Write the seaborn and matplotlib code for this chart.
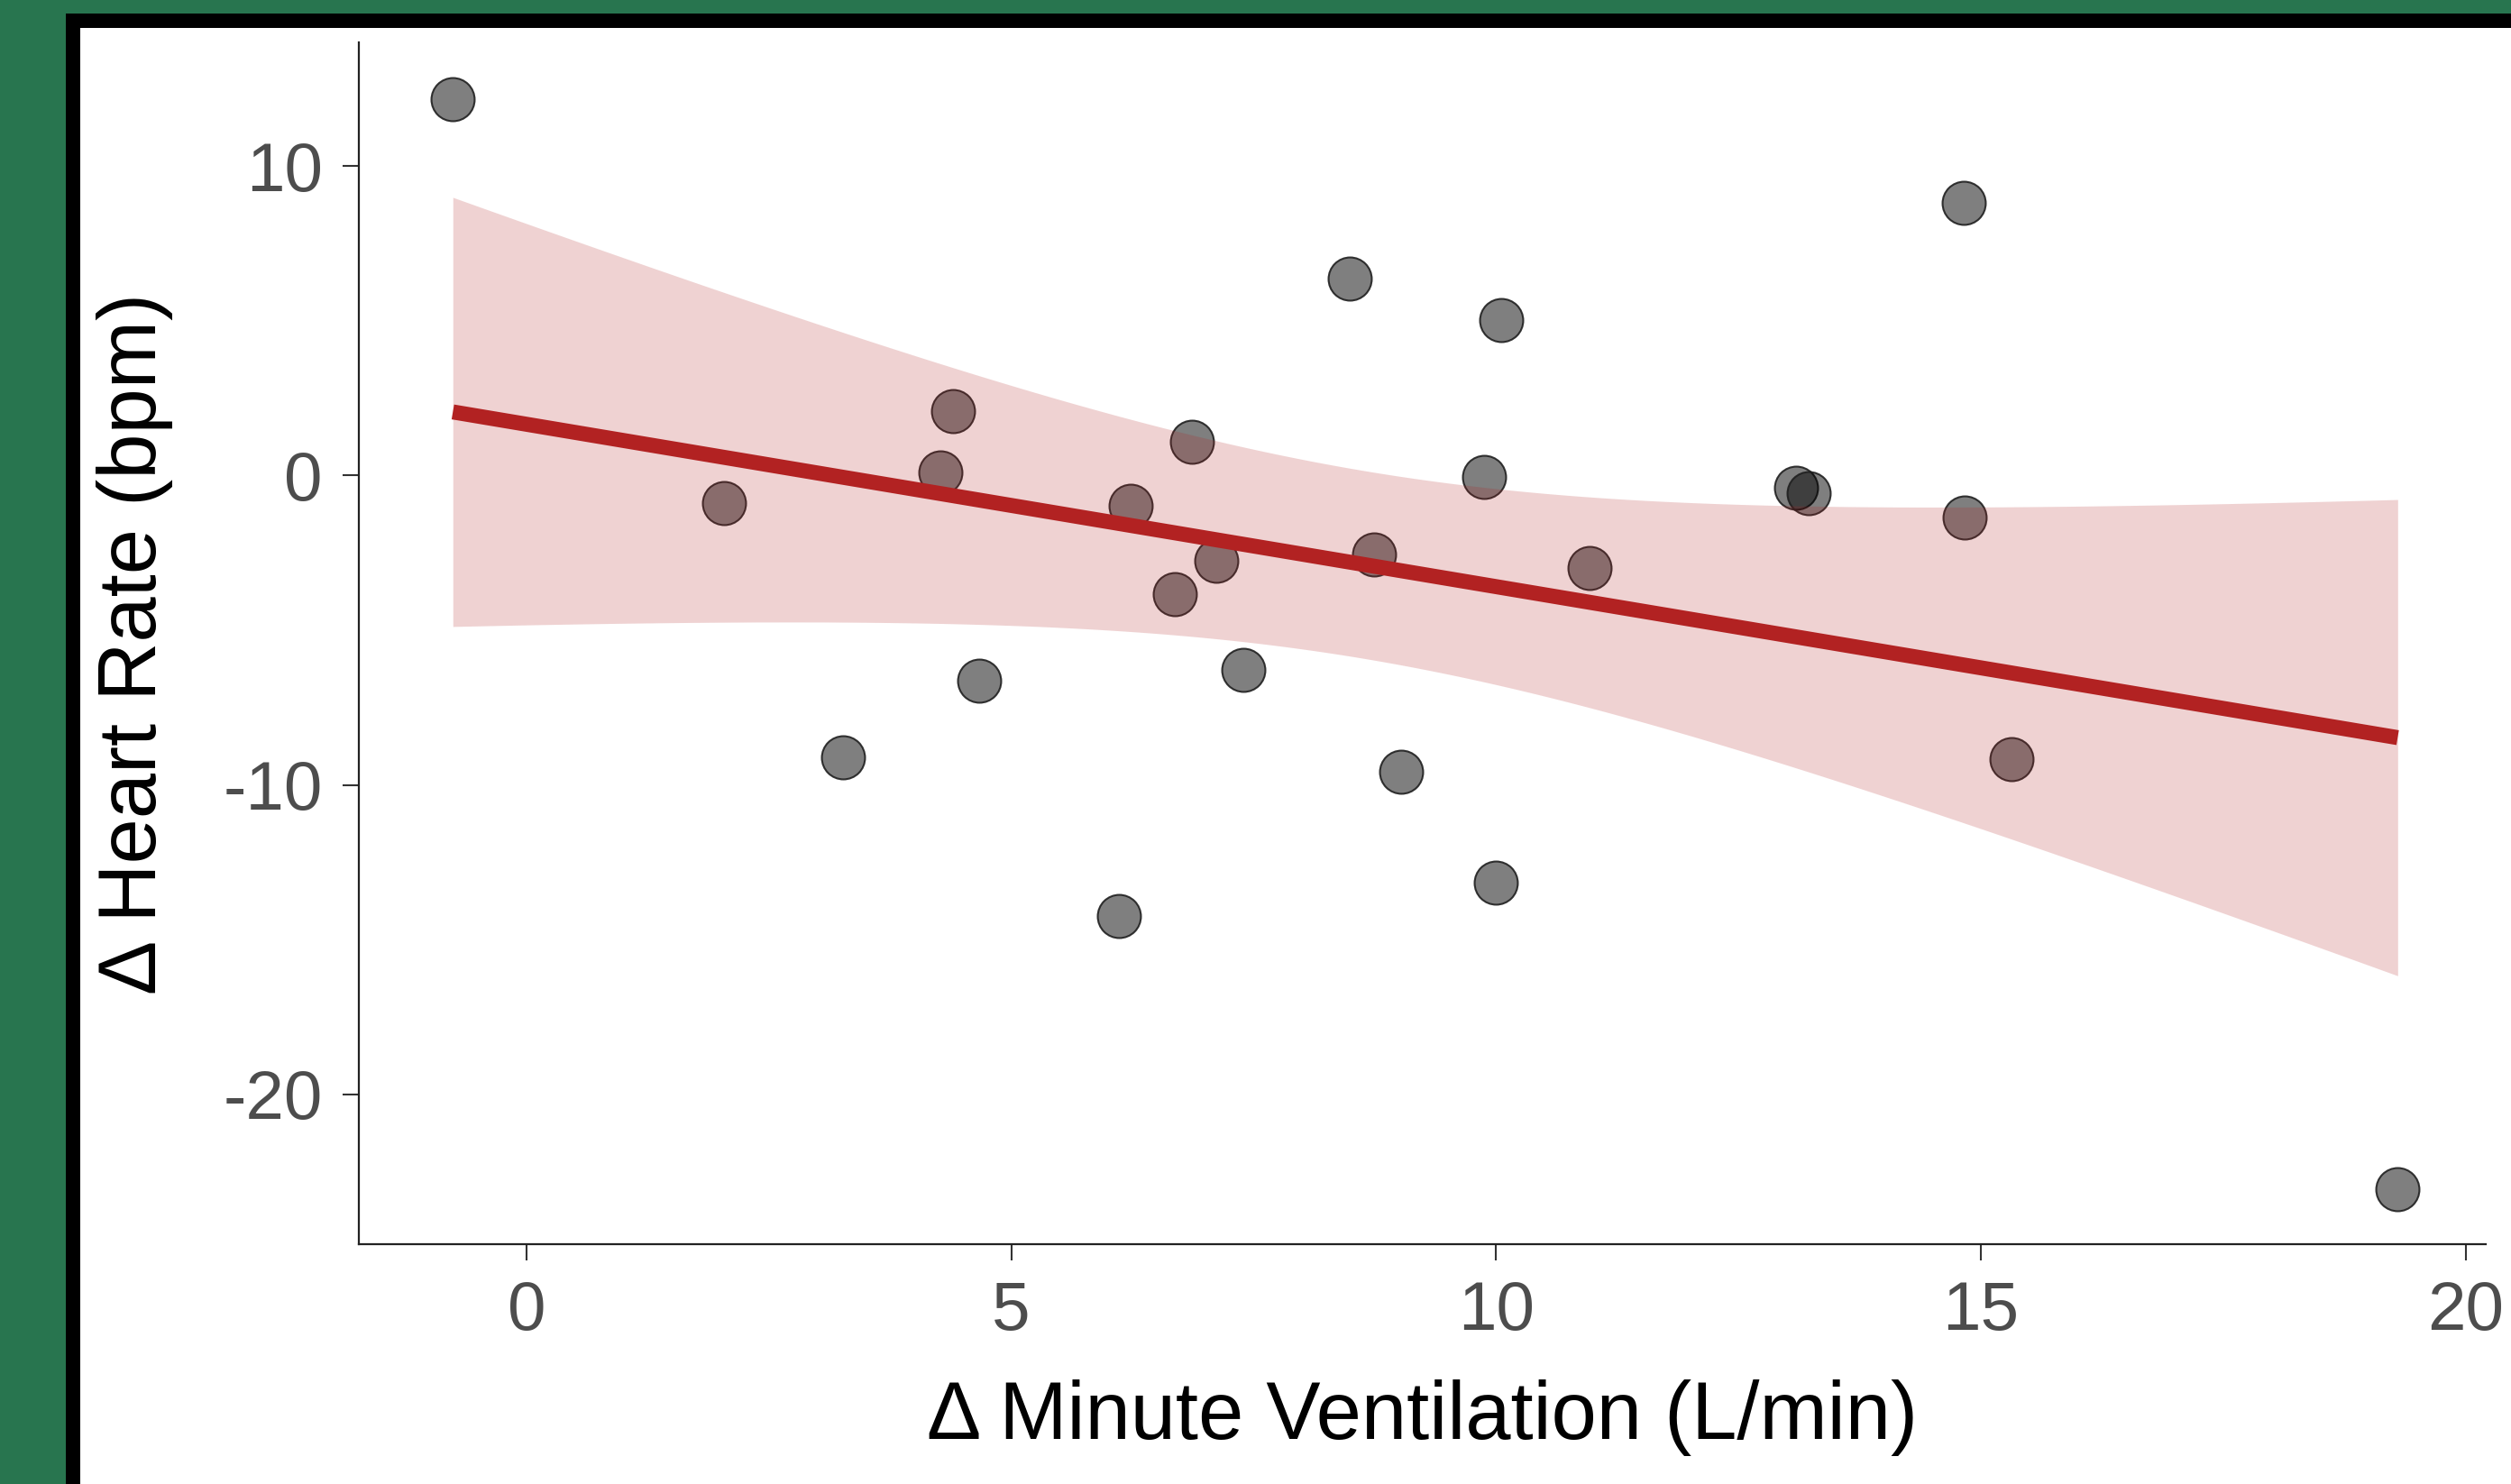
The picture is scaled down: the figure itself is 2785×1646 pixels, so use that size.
import matplotlib
matplotlib.use("Agg")
import matplotlib.pyplot as plt
from matplotlib.patches import Rectangle
import numpy as np
import pandas as pd
import seaborn as sns

# values
delta_ve = [-0.76, 2.04, 3.26, 4.27, 4.40, 4.67, 6.11, 6.23, 6.69, 6.86,
            7.11, 7.39, 8.49, 8.74, 9.02, 9.88, 10.00, 10.05, 10.96, 13.09,
            13.22, 14.82, 14.83, 15.32, 19.30]
delta_hr = [12.18, -0.88, -9.12, 0.10, 2.07, -6.63, -14.25, -0.98, -3.83, 1.09,
            -2.75, -6.27, 6.37, -2.54, -9.59, -0.05, -13.16, 5.03, -3.00, -0.41,
            -0.57, 8.81, -1.35, -9.17, -23.06]

x_ticks = [0, 5, 10, 15, 20]
y_ticks = [-20, -10, 0, 10]
y_tick_labels = ["-20", "-10", "0", "10"]

df = pd.DataFrame({"ve": delta_ve, "hr": delta_hr})

# linear fit with the usual t-based 95% confidence band (like lm smoothing)
x = df["ve"].to_numpy()
y = df["hr"].to_numpy()
n = len(x)
slope, intercept = np.polyfit(x, y, 1)
resid = y - (slope * x + intercept)
s_err = np.sqrt(np.sum(resid ** 2) / (n - 2))
t_crit = 2.0687  # t(0.975, df=23)
grid = np.linspace(x.min(), x.max(), 200)
fit = slope * grid + intercept
half = t_crit * s_err * np.sqrt(1 / n + (grid - x.mean()) ** 2 / np.sum((x - x.mean()) ** 2))

sns.set_style("white")
plt.rcParams["font.family"] = ["Liberation Sans", "DejaVu Sans"]

fig = plt.figure(figsize=(27.85, 16.46), dpi=100)
fig.patch.set_facecolor("#28754f")
# slide frame: black border and white panel, kept behind the axes
fig.patches.append(Rectangle((0.0262, 0.0), 1.0, 0.9909, transform=fig.transFigure,
                             facecolor="black", edgecolor="none", zorder=-2))
fig.patches.append(Rectangle((0.0320, 0.0), 1.0, 0.9812, transform=fig.transFigure,
                             facecolor="white", edgecolor="none", zorder=-1))

ax = fig.add_axes([0.1429, 0.1616, 0.8471, 0.8098])
ax.set_facecolor("none")

sns.scatterplot(data=df, x="ve", y="hr", ax=ax, s=1190,
                color=(0, 0, 0, 0.5), edgecolor=(0.12, 0.12, 0.12, 0.9),
                linewidth=1.5, legend=False)
sns.regplot(data=df, x="ve", y="hr", ax=ax, scatter=False, ci=None,
            color="#b22222", line_kws={"linewidth": 12, "solid_capstyle": "butt"})
ax.fill_between(grid, fit - half, fit + half, color="#b22222", alpha=0.2,
                linewidth=0)

ax.set_xlim(-1.73, 20.21)
ax.set_ylim(-24.85, 14.0)
ax.set_xticks(x_ticks)
ax.set_yticks(y_ticks)
ax.set_yticklabels(y_tick_labels)

ax.tick_params(axis="both", labelsize=55, labelcolor="#4d4d4d", color="#333333",
               length=13, width=1.5, pad=16, bottom=True, left=True)
for side in ["top", "right"]:
    ax.spines[side].set_visible(False)
for side in ["left", "bottom"]:
    ax.spines[side].set_color("#222222")
    ax.spines[side].set_linewidth(1.6)

ax.set_xlabel("\u0394 Minute Ventilation (L/min)", fontsize=65, color="black", labelpad=28)
ax.set_ylabel("\u0394 Heart Rate (bpm)", fontsize=65, color="black", labelpad=40)

fig.savefig("out.png", dpi=100, facecolor=fig.get_facecolor())
